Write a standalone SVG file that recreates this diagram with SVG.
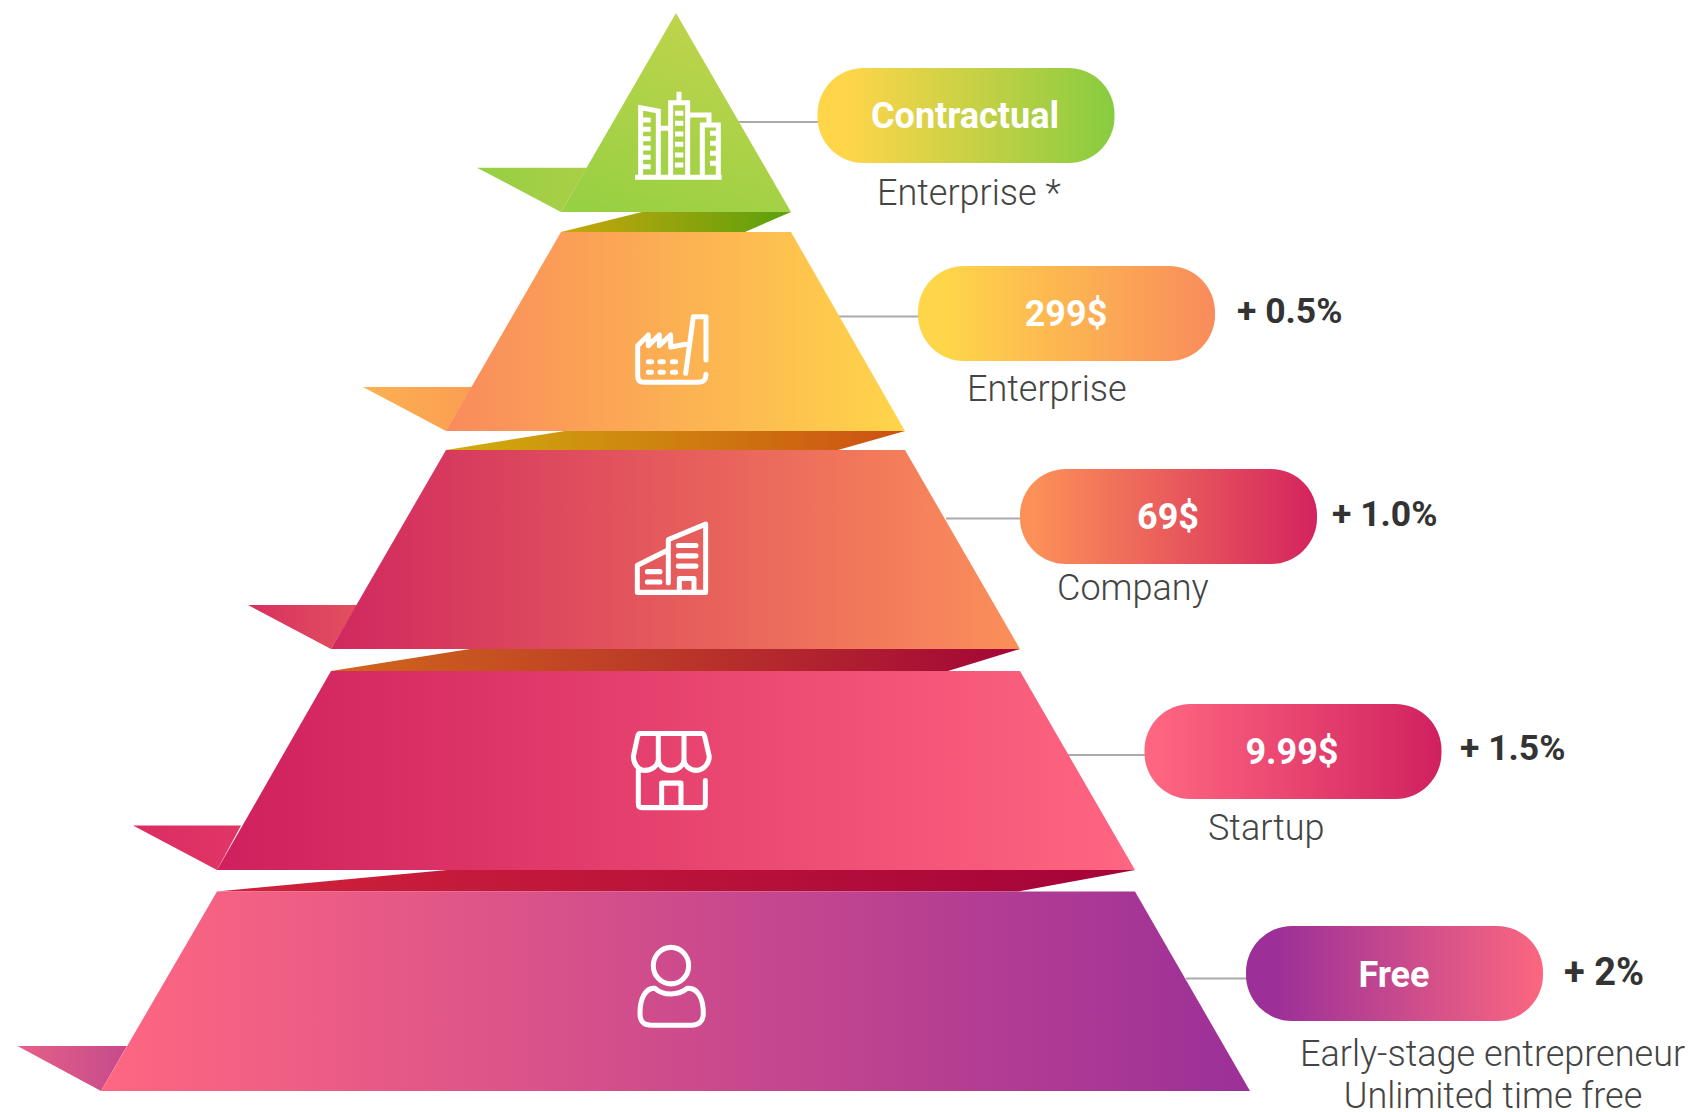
<svg xmlns="http://www.w3.org/2000/svg" width="1693" height="1112" viewBox="0 0 1693 1112">
<style>
.pt{font-family:Roboto,"Liberation Sans",sans-serif;font-weight:700;font-size:36px;fill:#fff;text-anchor:middle}
.pct{font-family:Roboto,"Liberation Sans",sans-serif;font-weight:700;font-size:35.500px;fill:#333}
.sub{font-family:Roboto,"Liberation Sans",sans-serif;font-weight:300;font-size:36px;fill:#444}
.ic{fill:none;stroke:#fff;stroke-width:15;stroke-linecap:round;stroke-linejoin:round}
.ics{fill:none;stroke:#fff;stroke-width:15;stroke-linejoin:miter}
.cn{stroke:#aaa;stroke-width:2;fill:none}
</style>
<defs>
<linearGradient id="g1" x1="0.15" y1="1" x2="0.6" y2="0"><stop offset="0" stop-color="#98d043"/><stop offset="1" stop-color="#bfd44c"/></linearGradient>
<linearGradient id="f1" x1="0" x2="1"><stop offset="0" stop-color="#96cf43"/><stop offset="1" stop-color="#aacf47"/></linearGradient>
<linearGradient id="s1" x1="0" x2="1"><stop offset="0" stop-color="#c9a60c"/><stop offset="1" stop-color="#5aa10c"/></linearGradient>
<linearGradient id="g2" x1="0" x2="1"><stop offset="0" stop-color="#f98b5c"/><stop offset="1" stop-color="#ffd54a"/></linearGradient>
<linearGradient id="f2" x1="0" x2="1"><stop offset="0" stop-color="#fbb052"/><stop offset="1" stop-color="#fb9f52"/></linearGradient>
<linearGradient id="s2" x1="0" x2="1"><stop offset="0" stop-color="#cfae0d"/><stop offset="1" stop-color="#cd5013"/></linearGradient>
<linearGradient id="g3" x1="0" x2="1"><stop offset="0" stop-color="#d0285f"/><stop offset="1" stop-color="#fb905a"/></linearGradient>
<linearGradient id="f3" x1="0" x2="1"><stop offset="0" stop-color="#d8305f"/><stop offset="1" stop-color="#e2505f"/></linearGradient>
<linearGradient id="s3" x1="0" x2="1"><stop offset="0" stop-color="#d0681a"/><stop offset="1" stop-color="#a40538"/></linearGradient>
<linearGradient id="g4" x1="0" x2="1"><stop offset="0" stop-color="#cf205d"/><stop offset="1" stop-color="#ff6681"/></linearGradient>
<linearGradient id="f4" x1="0" x2="1"><stop offset="0" stop-color="#db2c62"/><stop offset="1" stop-color="#e03666"/></linearGradient>
<linearGradient id="s4" x1="0" x2="1"><stop offset="0" stop-color="#d0223a"/><stop offset="1" stop-color="#a4033a"/></linearGradient>
<linearGradient id="g5" x1="0" x2="1"><stop offset="0" stop-color="#ff6781"/><stop offset="1" stop-color="#9c3098"/></linearGradient>
<linearGradient id="f5" x1="0" x2="1"><stop offset="0" stop-color="#e66088"/><stop offset="1" stop-color="#c64b8c"/></linearGradient>
<linearGradient id="p1" x1="0" x2="1"><stop offset="0.1" stop-color="#ffd54a"/><stop offset="1" stop-color="#88cc40"/></linearGradient>
<linearGradient id="p2" x1="0" x2="1"><stop offset="0.1" stop-color="#ffd54a"/><stop offset="1" stop-color="#f98b5c"/></linearGradient>
<linearGradient id="p3" x1="0" x2="1"><stop offset="0.05" stop-color="#fc9059"/><stop offset="1" stop-color="#d4235f"/></linearGradient>
<linearGradient id="p4" x1="0" x2="1"><stop offset="0.05" stop-color="#fe6580"/><stop offset="1" stop-color="#d0215f"/></linearGradient>
<linearGradient id="p5" x1="0" x2="1"><stop offset="0.1" stop-color="#9c3098"/><stop offset="1" stop-color="#fb6780"/></linearGradient>
</defs>
<g id="connectors">
<path class="cn" d="M738 122H820"/>
<path class="cn" d="M838 316.500H920"/>
<path class="cn" d="M946 518.500H1022"/>
<path class="cn" d="M1068 755H1146"/>
<path class="cn" d="M1186 978.500H1248"/>
</g>
<g id="tier-free">
<polygon points="17.500,1046 127,1046 101,1091" fill="url(#f5)"/>
<polygon points="217,891.500 447,870 1135,870 1018,891.500" fill="url(#s4)"/>
<polygon points="217,891.500 1135,891.500 1250,1091 101,1091" fill="url(#g5)"/>
<g transform="translate(560,500) scale(.3333,.3444)"><circle class="ic" cx="333" cy="1352" r="53"/><path class="ic" d="M285 1418C310 1440 355 1440 382 1418C415 1415 430 1450 430 1490C430 1515 415 1525 395 1525H275C250 1525 240 1515 240 1490C240 1450 255 1415 285 1418Z"/></g>
<rect x="1246" y="926" width="297" height="95" rx="46" fill="url(#p5)"/>
<text class="pt" x="1394" y="986.500">Free</text>
<text class="pct" x="1564" y="985" style="font-size:38px">+ 2%</text>
<text class="sub" x="1300" y="1065.500">Early-stage entrepreneur</text>
<text class="sub" x="1493" y="1107.500" text-anchor="middle">Unlimited time free</text>
</g>
<g id="tier-startup">
<polygon points="133,825.500 241,825.500 217,870" fill="url(#f4)"/>
<polygon points="331,671 470,649 1020,649 948,671" fill="url(#s3)"/>
<polygon points="331,671 1020,671 1135,870 217,870" fill="url(#g4)"/>
<g transform="translate(560,500) scale(.3333,.3444)"><path class="ic" d="M240 678H425Q432 678 434 686L448 745C448 765 430 785 410 785C390 785 372 772 372 752C372 772 352 785 333 785C312 785 295 772 295 752C295 772 275 785 255 785C235 785 220 765 220 745L233 686Q235 678 240 678ZM295 678V752M372 678V752M235 785V882Q235 893 246 893H425Q436 893 436 882V815M305 893V822H363V893"/></g>
<rect x="1144.500" y="704" width="297" height="95" rx="46" fill="url(#p4)"/>
<text class="pt" x="1292" y="764">9.99$</text>
<text class="pct" x="1460" y="760">+ 1.5%</text>
<text class="sub" x="1208" y="840">Startup</text>
</g>
<g id="tier-company">
<polygon points="248,605 357,605 331,649" fill="url(#f3)"/>
<polygon points="446,450 565,431 905,431 838,450" fill="url(#s2)"/>
<polygon points="446,450 905,450 1020,649 331,649" fill="url(#g3)"/>
<g transform="translate(560,500) scale(.3333,.3444)"><path class="ic" d="M325 145L232 190V268H437V70L325 115V240M355 132H408M355 162H408M355 192H408M262 208H300M262 238H300M358 268V228H402V268"/></g>
<rect x="1020" y="469" width="297" height="95" rx="46" fill="url(#p3)"/>
<text class="pt" x="1168" y="529">69$</text>
<text class="pct" x="1332" y="525.500">+ 1.0%</text>
<text class="sub" x="1057" y="600">Company</text>
</g>
<g id="tier-enterprise">
<polygon points="363,387 472,387 446,431" fill="url(#f2)"/>
<polygon points="561,232 642,212 791,212 745,232" fill="url(#s1)"/>
<polygon points="561,232 791,232 905,431 446,431" fill="url(#g2)"/>
<g transform="translate(625,305) scale(.3333)"><path class="ic" d="M38 122L70 90V122L103 90V122L137 90V126L182 118M182 205L205 35H243V165M38 122V212Q38 232 58 232H220Q243 232 243 208M70 170H80M105 170H115M142 170H152M70 202H80M105 202H115M142 202H152"/></g>
<rect x="918" y="266" width="297" height="95" rx="46" fill="url(#p2)"/>
<text class="pt" x="1066" y="325.500">299$</text>
<text class="pct" x="1237" y="323">+ 0.5%</text>
<text class="sub" x="967" y="400.500">Enterprise</text>
</g>
<g id="tier-contractual">
<polygon points="477,167.700 586.700,167.700 561,212" fill="url(#f1)"/>
<polygon points="676,13 791,212 561,212" fill="url(#g1)"/>
<g transform="translate(625,85) scale(.3333)"><path class="ics" d="M30 277H290M47 277V68L100 78V277M100 130H137M137 277V53H188V277M162 53V20M188 90H252V120M232 277V120H280V277M50 105H77M50 133H77M50 161H77M50 189H77M50 217H77M50 245H77M150 85H175M150 115H175M150 147H175M150 178H175M150 210H175M150 240H175M280 145H255M280 175H255M280 205H255M280 235H255"/></g>
<rect x="817.500" y="68" width="297" height="95" rx="46" fill="url(#p1)"/>
<text class="pt" x="965" y="128">Contractual</text>
<text class="sub" x="877" y="204.500">Enterprise *</text>
</g>
</svg>
